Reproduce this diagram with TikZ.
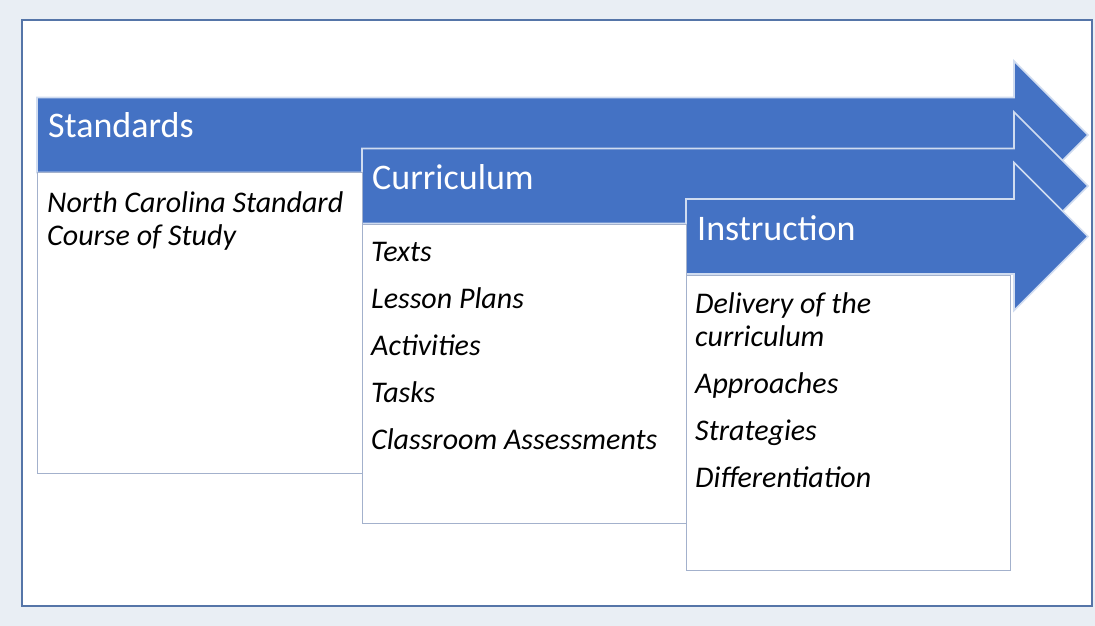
\documentclass[tikz,border=0pt]{standalone}
\usepackage{fontspec}
\setmainfont{Carlito}
\usetikzlibrary{positioning}

\definecolor{stageblue}{HTML}{4472C4}
\definecolor{pagebg}{HTML}{E9EEF4}
\definecolor{frameline}{HTML}{5575A8}
\definecolor{boxline}{HTML}{A3B1CC}

\begin{document}
\begin{tikzpicture}[x=1pt, y=-1pt,
    stage/.style={fill=stageblue, draw=white!75!stageblue, line width=1.6pt, line join=miter},
    box/.style={draw=boxline, fill=white, line width=1.2pt, anchor=north west, inner sep=0pt},
    head/.style={text=white, font=\fontsize{36}{40}\selectfont, anchor=base west, inner sep=0pt},
    item/.style={font=\itshape\fontsize{30}{33}\selectfont, align=left, anchor=base west, inner sep=0pt}]
    % page and frame
    \fill[pagebg] (0, 0) rectangle (1095, 626);
    \draw[frameline, fill=white, line width=1.2pt] (22, 20) rectangle (1092, 606);

    % the three stages
    \foreach \xs/\yc in {37/135, 362/186, 686/236.5}
        \draw[stage] (\xs, \yc-37.5) -- (1014, \yc-37.5) -- (1014, \yc-74)
              -- (1088, \yc) -- (1014, \yc+74) -- (1014, \yc+37.5)
              -- (\xs, \yc+37.5) -- cycle;

    \node[head] (stdhead) at (48, 137) {Standards};
    \node[head] (curhead) at (372, 189) {Curriculum};
    \node[head] (insthead) at (697, 240) {Instruction};

    % boxes under the stages
    \node[box, minimum width=325, minimum height=301] (stdbox) at (37, 172) {};
    \node[box, minimum width=324, minimum height=299] (curbox) at (362, 224) {};
    \node[box, minimum width=324, minimum height=295] (instbox) at (686, 275) {};

    % two-line texts sit on the baseline of their last line
    \node[item] (std1) at (47, 245) {North Carolina Standard\\Course of Study};

    \node[item] (cur1) at (371, 261) {Texts};
    \node[item] (cur2) at (371, 308) {Lesson Plans};
    \node[item] (cur3) at (371, 355) {Activities};
    \node[item] (cur4) at (371, 402) {Tasks};
    \node[item] (cur5) at (371, 449) {Classroom Assessments};

    \node[item] (inst1) at (695, 346) {Delivery of the\\curriculum};
    \node[item] (inst2) at (695, 393) {Approaches};
    \node[item] (inst3) at (695, 440) {Strategies};
    \node[item] (inst4) at (695, 487) {Differentiation};
\end{tikzpicture}
\end{document}
